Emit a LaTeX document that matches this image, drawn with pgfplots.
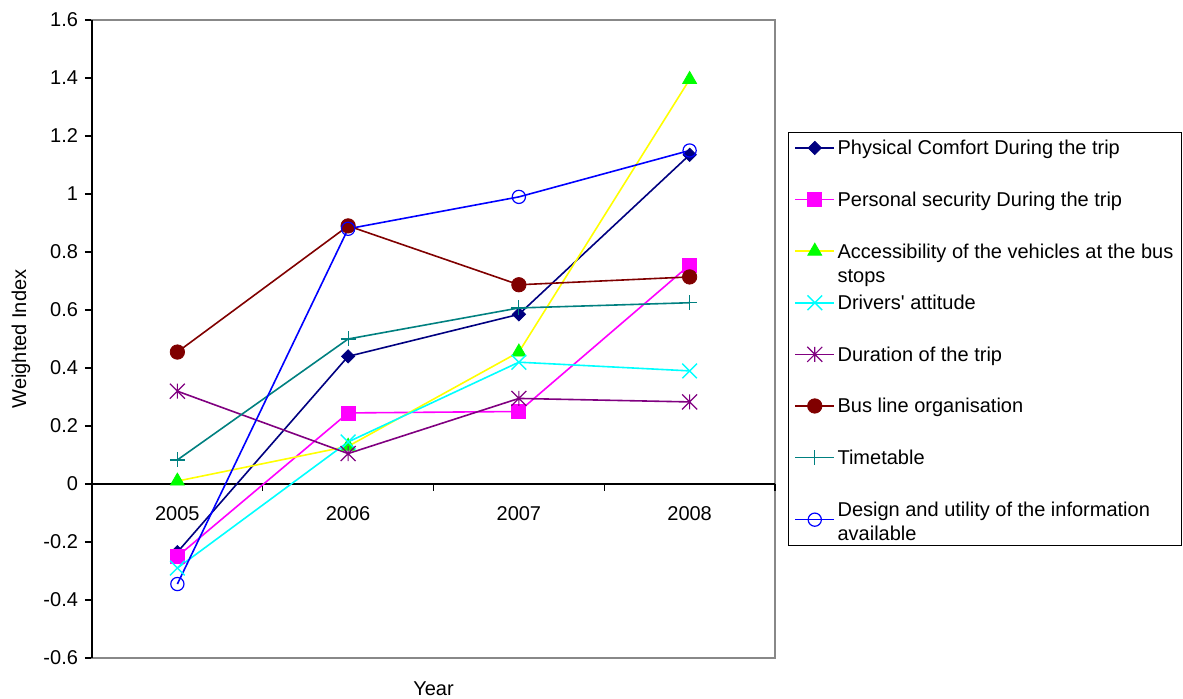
\documentclass[border=0pt]{standalone}
\usepackage{fontspec}
\setmainfont{Liberation Sans}[Ligatures=TeXOff]
\usepackage{pgfplots}
\pgfplotsset{compat=1.18}

\definecolor{cnavy}{RGB}{0,0,128}
\definecolor{cmag}{RGB}{255,0,255}
\definecolor{cyel}{RGB}{255,255,0}
\definecolor{cgreen}{RGB}{0,255,0}
\definecolor{ccyan}{RGB}{0,255,255}
\definecolor{cpurp}{RGB}{128,0,128}
\definecolor{cdred}{RGB}{128,0,0}
\definecolor{cteal}{RGB}{0,128,128}
\definecolor{cblue}{RGB}{0,0,255}
\definecolor{cframe}{RGB}{136,136,136}

\pgfdeclareplotmark{xstar}{%
  \pgfpathmoveto{\pgfqpoint{0pt}{\pgfplotmarksize}}%
  \pgfpathlineto{\pgfqpoint{0pt}{-\pgfplotmarksize}}%
  \pgfpathmoveto{\pgfqpoint{-\pgfplotmarksize}{\pgfplotmarksize}}%
  \pgfpathlineto{\pgfqpoint{\pgfplotmarksize}{-\pgfplotmarksize}}%
  \pgfpathmoveto{\pgfqpoint{-\pgfplotmarksize}{-\pgfplotmarksize}}%
  \pgfpathlineto{\pgfqpoint{\pgfplotmarksize}{\pgfplotmarksize}}%
  \pgfusepathqstroke}

\begin{document}
\begin{tikzpicture}
\useasboundingbox (0,0) rectangle (591.5pt,349.5pt);
\begin{axis}[
  at={(46pt,20.5pt)}, anchor=south west,
  scale only axis, width=341.5pt, height=319pt,
  xmin=-0.5, xmax=3.5, ymin=-0.6, ymax=1.6,
  clip=false,
  axis line style={draw=cframe, line width=0.6pt},
  xtick={0,1,2,3}, xticklabels={2005,2006,2007,2008},
  xtick style={draw=none},
  xticklabel style={anchor=center, yshift=87pt-15pt},
  ytick={-0.6,-0.4,-0.2,0,0.2,0.4,0.6,0.8,1,1.2,1.4,1.6},
  yticklabels={-0.6,-0.4,-0.2,0,0.2,0.4,0.6,0.8,1,1.2,1.4,1.6},
  ytick pos=left, ytick align=outside,
  ytick style={draw=black, line width=0.6pt},
  major tick length=3.5pt,
  xlabel={Year}, ylabel={Weighted Index},
  xlabel style={at={(axis description cs:0.5,0)}, anchor=center, yshift=-15.3pt},
  ylabel style={at={([xshift=-35.5pt]axis description cs:0,0.5)}, anchor=center},
  legend cell align=left,
  legend image code/.code={\draw[mark repeat=2,mark phase=2] plot coordinates {(0pt,0pt)(9.75pt,0pt)(19.5pt,0pt)};},
  legend style={at={(1.019,0.8245)}, anchor=north west, draw=black, line width=0.5pt,
    inner xsep=3pt, inner ysep=2.75pt, row sep=15.8pt,
    nodes={inner xsep=1.25pt, inner ysep=0pt, text height=8.5pt, text depth=1.5pt}},
]
\draw[black, line width=0.6pt] (axis cs:-0.5,-0.6) -- (axis cs:-0.5,1.6);
\draw[black, line width=0.6pt] (axis cs:-0.5,0) -- (axis cs:3.5,0);
\pgfplotsinvokeforeach{-0.5,0.5,1.5,2.5,3.5}{\draw[black, line width=0.6pt] (axis cs:#1,0) -- ++(0pt,-3.5pt);}

\addplot[color=cnavy, line width=0.8pt, mark=square*, mark size=2.35pt, mark options={solid, rotate=45, fill=cnavy, line width=0.4pt}]
  coordinates {(0,-0.235)(1,0.44)(2,0.585)(3,1.135)};
\addlegendentry{Physical Comfort During the trip}
\addplot[color=cmag, line width=0.8pt, mark=square*, mark size=3.5pt, mark options={solid, fill=cmag, line width=0.4pt}]
  coordinates {(0,-0.25)(1,0.245)(2,0.25)(3,0.755)};
\addlegendentry{Personal security During the trip}
\addplot[color=cyel, line width=0.8pt, mark=triangle*, mark size=4pt, mark options={solid, draw=cgreen, fill=cgreen, line width=0.4pt}]
  coordinates {(0,0.01)(1,0.13)(2,0.455)(3,1.395)};
\addlegendentry{\begin{tabular}[t]{@{}l@{}}Accessibility of the vehicles at the bus\\stops\end{tabular}}
\addplot[color=ccyan, line width=0.8pt, mark=x, mark size=5.2pt, mark options={solid, line width=0.7pt}]
  coordinates {(0,-0.29)(1,0.145)(2,0.42)(3,0.39)};
\addlegendentry{Drivers' attitude}
\addplot[color=cpurp, line width=0.8pt, mark=xstar, mark size=3.75pt, mark options={solid, line width=0.6pt}]
  coordinates {(0,0.32)(1,0.105)(2,0.295)(3,0.283)};
\addlegendentry{Duration of the trip}
\addplot[color=cdred, line width=0.8pt, mark=*, mark size=3.6pt, mark options={solid, fill=cdred, line width=0.4pt}]
  coordinates {(0,0.455)(1,0.89)(2,0.687)(3,0.714)};
\addlegendentry{Bus line organisation}
\addplot[color=cteal, line width=0.8pt, mark=+, mark size=3.75pt, mark options={solid, line width=0.6pt}]
  coordinates {(0,0.083)(1,0.5)(2,0.607)(3,0.625)};
\addlegendentry{Timetable}
\addplot[color=cblue, line width=0.8pt, mark=o, mark size=3.3pt, mark options={solid, line width=0.6pt}]
  coordinates {(0,-0.345)(1,0.88)(2,0.99)(3,1.15)};
\addlegendentry[text depth=12pt]{\begin{tabular}[t]{@{}l@{}}Design and utility of the information\\available\end{tabular}}
\end{axis}
\end{tikzpicture}
\end{document}
